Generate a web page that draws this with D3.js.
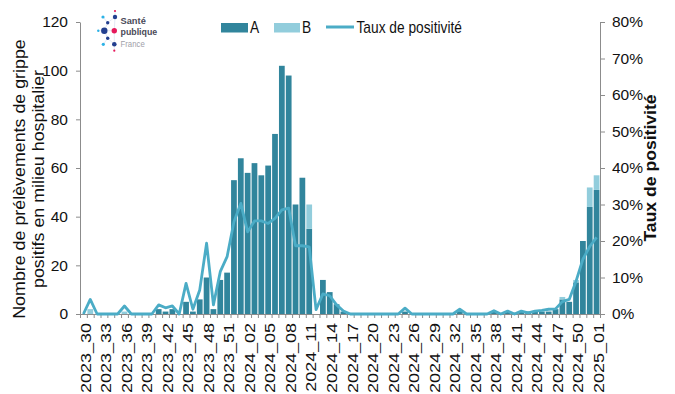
<!DOCTYPE html>
<html>
<head>
<meta charset="utf-8">
<script src="https://cdn.jsdelivr.net/npm/d3@7"></script>
<style>
  body { margin: 0; background: #fff; }
  svg { display: block; }
  text { font-family: "Liberation Sans", Arial, sans-serif; }
</style>
</head>
<body>
<svg id="chart" width="675" height="394"></svg>
<script>
// Weekly hospital influenza tests (ISO week), types A and B, with positivity rate
const weeks = [
  "2023_30","2023_31","2023_32","2023_33","2023_34","2023_35","2023_36","2023_37","2023_38","2023_39",
  "2023_40","2023_41","2023_42","2023_43","2023_44","2023_45","2023_46","2023_47","2023_48","2023_49",
  "2023_50","2023_51","2023_52","2024_01","2024_02","2024_03","2024_04","2024_05","2024_06","2024_07",
  "2024_08","2024_09","2024_10","2024_11","2024_12","2024_13","2024_14","2024_15","2024_16","2024_17",
  "2024_18","2024_19","2024_20","2024_21","2024_22","2024_23","2024_24","2024_25","2024_26","2024_27",
  "2024_28","2024_29","2024_30","2024_31","2024_32","2024_33","2024_34","2024_35","2024_36","2024_37",
  "2024_38","2024_39","2024_40","2024_41","2024_42","2024_43","2024_44","2024_45","2024_46","2024_47",
  "2024_48","2024_49","2024_50","2024_51","2024_52","2025_01"
];

const typeA = [
  0,0,0,0,0,0,0,0,0,0,
  0,2,1,2,0,5,1,6,15,2,
  14,17,55,64,58,62,57,61,74,102,
  98,45,56,35,0,14,9,4,1,0,
  0,0,0,0,0,0,0,1,0,0,
  0,0,0,0,0,1,0,0,0,0,
  1,0,1,0,1,1,1,1,1,2,
  6,5,13,30,44,51
];

const typeB = [
  0,2,0,0,0,0,1,0,0,0,
  0,0,0,0,0,0,0,0,0,0,
  0,0,0,0,0,0,0,0,0,0,
  0,0,0,10,0,0,0,0,0,0,
  0,0,0,0,0,0,0,0,0,0,
  0,0,0,0,0,0,0,0,0,0,
  0,0,0,0,0,0,0,0,0,0,
  1,0,1,0,8,6
];

// Positivity rate, in percent
const positivity = [
  0,4,0,0,0,0,2.2,0,0,0,
  0,2.5,1.7,2.2,0,8.4,1.3,6.6,19.4,2.5,
  11.6,15.7,25.3,30.3,22.5,25.5,25.5,24.8,26.2,28.5,
  29,18.7,18.7,18.4,1.2,5.5,5,2.5,0.8,0,
  0,0,0,0,0,0,0,1.6,0,0,
  0,0,0,0,0,1.3,0,0,0,0,
  0.9,0,0.8,0,0.8,0.3,0.8,1,1.3,1.4,
  3.4,4,9,15,18.5,21
];

const countTicks = [0, 20, 40, 60, 80, 100, 120];
const rateTicks = [0, 10, 20, 30, 40, 50, 60, 70, 80];
const labelledWeeks = weeks.filter((w, i) => i % 3 === 0);

const colA = "#31859c", colB = "#92cddc", colLine = "#4bacc6", axisCol = "#8c8c8c";

const svg = d3.select("#chart");
const x0 = 80, x1 = 600, yTop = 22, yBot = 314;

const x = d3.scaleBand().domain(weeks).range([x0, x1]).paddingInner(0.16).paddingOuter(0.08);
const xIdx = d3.scaleLinear().domain([0, weeks.length]).range([x0, x1]);
const y = d3.scaleLinear().domain([0, 120]).range([yBot, yTop]);
const yR = d3.scaleLinear().domain([0, 80]).range([yBot, yTop]);

const table = weeks.map((w, i) => ({ week: w, A: typeA[i], B: typeB[i], rate: positivity[i] }));
const stacked = d3.stack().keys(["A", "B"])(table);

// Stacked bars
svg.append("g").selectAll("g").data(stacked).join("g")
  .attr("fill", d => d.key === "A" ? colA : colB)
  .selectAll("rect").data(d => d.filter(s => s[1] > s[0])).join("rect")
  .attr("x", d => x(d.data.week))
  .attr("width", x.bandwidth())
  .attr("y", d => y(d[1]))
  .attr("height", d => y(d[0]) - y(d[1]));

// Axes
const axLeft = svg.append("g").attr("transform", `translate(${x0},0)`)
  .call(d3.axisLeft(y).tickValues(countTicks).tickSize(4).tickSizeOuter(0).tickPadding(8));
const axRight = svg.append("g").attr("transform", `translate(${x1},0)`)
  .call(d3.axisRight(yR).tickValues(rateTicks).tickFormat(d => d + "%").tickSize(5).tickSizeOuter(0).tickPadding(7));
const axTicks = svg.append("g").attr("transform", `translate(0,${yBot})`)
  .call(d3.axisBottom(xIdx).tickValues(d3.range(weeks.length + 1)).tickFormat("").tickSize(4).tickSizeOuter(0));
const axLabels = svg.append("g").attr("transform", `translate(0,${yBot})`)
  .call(d3.axisBottom(x).tickValues(labelledWeeks).tickSize(0));
axLabels.select(".domain").remove();

[axLeft, axRight, axTicks].forEach(g => {
  g.selectAll("path, line").attr("stroke", axisCol);
});
[axLeft, axRight].forEach(g => g.selectAll("text")
  .attr("font-size", 15.5).attr("fill", "#111")
  .style("font-family", '"Liberation Sans", Arial, sans-serif'));

axLabels.selectAll("text")
  .attr("x", 0).attr("y", 0).attr("dy", "0.35em")
  .attr("text-anchor", "end")
  .attr("transform", "translate(2,9) rotate(-90) scale(1.2,1)")
  .attr("font-size", 15).attr("fill", "#111")
  .style("font-family", '"Liberation Sans", Arial, sans-serif');

// Positivity line
svg.append("path").datum(table)
  .attr("fill", "none").attr("stroke", colLine).attr("stroke-width", 2.8)
  .attr("stroke-linejoin", "round")
  .attr("d", d3.line().x(d => x(d.week) + x.bandwidth() / 2).y(d => yR(d.rate)));

// Axis titles
const leftTitle = svg.append("g").attr("transform", "translate(0,179)");
[["Nombre de prélèvements de grippe", 25], ["positifs en milieu hospitalier", 43.5]].forEach(([t, bx]) => {
  leftTitle.append("text")
    .attr("transform", `translate(${bx},0) rotate(-90) scale(1.115,1)`)
    .attr("text-anchor", "middle").attr("font-size", 16).attr("fill", "#111")
    .text(t);
});
svg.append("text")
  .attr("transform", "translate(656,168) rotate(-90) scale(1.1,1)")
  .attr("text-anchor", "middle").attr("font-size", 16).attr("font-weight", "bold").attr("fill", "#111")
  .text("Taux de positivité");

// Legend
const legend = svg.append("g");
legend.append("rect").attr("x", 221).attr("y", 23).attr("width", 27).attr("height", 9.5).attr("fill", colA);
legend.append("text").attr("transform", "translate(250,32.5) scale(0.86,1)").attr("font-size", 16).attr("fill", "#111").text("A");
legend.append("rect").attr("x", 274).attr("y", 23).attr("width", 26).attr("height", 9.5).attr("fill", colB);
legend.append("text").attr("transform", "translate(302,32.5) scale(0.86,1)").attr("font-size", 16).attr("fill", "#111").text("B");
legend.append("line").attr("x1", 326).attr("x2", 354).attr("y1", 27).attr("y2", 27)
  .attr("stroke", colLine).attr("stroke-width", 3);
legend.append("text").attr("transform", "translate(356.5,32.5) scale(0.86,1)").attr("font-size", 16).attr("fill", "#111").text("Taux de positivité");

// Santé publique France logo
const logo = svg.append("g");
const dots = [
  { x: 103, y: 17, r: 1.6, c: "#2cb2e6" },
  { x: 115, y: 17, r: 2.2, c: "#233f8f" },
  { x: 115, y: 11, r: 1.1, c: "#e6195b" },
  { x: 107.7, y: 22.7, r: 1.7, c: "#233f8f" },
  { x: 104.3, y: 30.7, r: 3.2, c: "#233f8f" },
  { x: 114.3, y: 30.7, r: 2.7, c: "#e6195b" },
  { x: 98.3, y: 30.7, r: 1.2, c: "#2cb2e6" },
  { x: 107.7, y: 38.3, r: 1.7, c: "#233f8f" },
  { x: 103.3, y: 44.3, r: 1.6, c: "#2cb2e6" },
  { x: 114.3, y: 44.3, r: 2.3, c: "#233f8f" },
  { x: 114.3, y: 50.7, r: 1.1, c: "#e6195b" }
];
const links = [[0, 3], [1, 3], [3, 4], [4, 5], [4, 6], [4, 7], [7, 8], [7, 9], [1, 2], [9, 10], [5, 1], [5, 9]];
logo.selectAll("line").data(links).join("line")
  .attr("x1", d => dots[d[0]].x).attr("y1", d => dots[d[0]].y)
  .attr("x2", d => dots[d[1]].x).attr("y2", d => dots[d[1]].y)
  .attr("stroke", "#c9d3ea").attr("stroke-width", 0.5);
logo.selectAll("circle").data(dots).join("circle")
  .attr("cx", d => d.x).attr("cy", d => d.y).attr("r", d => d.r).attr("fill", d => d.c);
logo.append("text").attr("transform", "translate(120.5,24) scale(0.95,1)")
  .attr("font-size", 9.8).attr("font-weight", "bold").attr("fill", "#4a4a58").text("Santé");
logo.append("text").attr("transform", "translate(120.5,35) scale(0.9,1)")
  .attr("font-size", 9.8).attr("font-weight", "bold").attr("fill", "#4a4a58").text("publique");
logo.append("text").attr("transform", "translate(120.5,46.5) scale(0.82,1)")
  .attr("font-size", 9.5).attr("fill", "#a0a0a8").text("France");
</script>
</body>
</html>
